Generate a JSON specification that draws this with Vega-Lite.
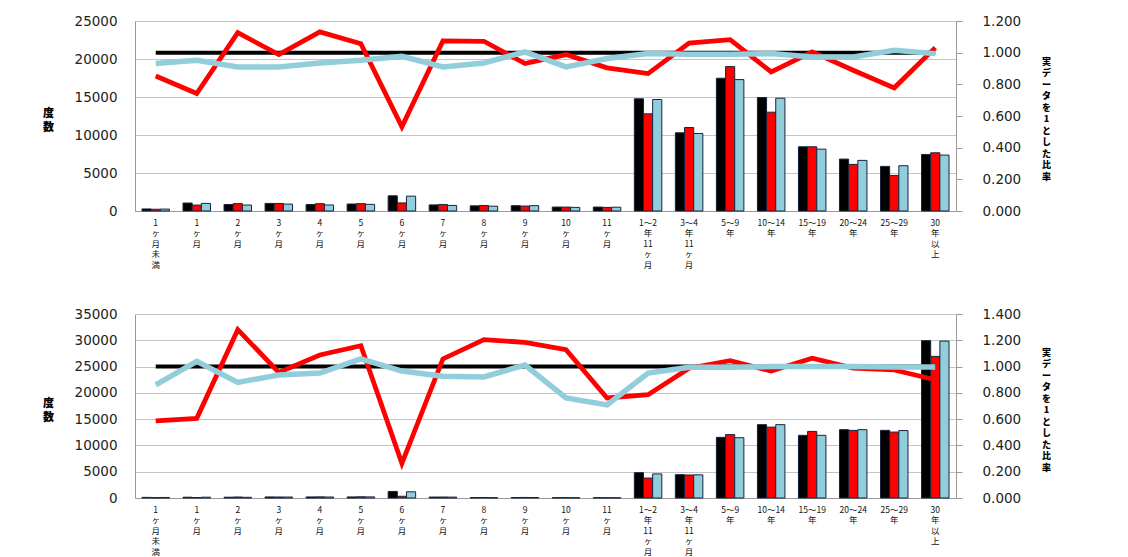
{
  "$schema": "https://vega.github.io/schema/vega-lite/v6.json",
  "padding": {"left": 42, "top": 14, "right": 0, "bottom": 0},
  "background": "white",
  "spacing": 38,
  "datasets": {
    "top": [
      {"period": "1ヶ月未満", "series": "実データ", "count": 270, "ratio": 1},
      {"period": "1ヶ月未満", "series": "推計1", "count": 230, "ratio": 0.853},
      {"period": "1ヶ月未満", "series": "推計2", "count": 251, "ratio": 0.931},
      {"period": "1ヶ月", "series": "実データ", "count": 1050, "ratio": 1},
      {"period": "1ヶ月", "series": "推計1", "count": 780, "ratio": 0.742},
      {"period": "1ヶ月", "series": "推計2", "count": 1000, "ratio": 0.952},
      {"period": "2ヶ月", "series": "実データ", "count": 860, "ratio": 1},
      {"period": "2ヶ月", "series": "推計1", "count": 970, "ratio": 1.126},
      {"period": "2ヶ月", "series": "推計2", "count": 785, "ratio": 0.91},
      {"period": "3ヶ月", "series": "実データ", "count": 1000, "ratio": 1},
      {"period": "3ヶ月", "series": "推計1", "count": 990, "ratio": 0.988},
      {"period": "3ヶ月", "series": "推計2", "count": 910, "ratio": 0.91},
      {"period": "4ヶ月", "series": "実データ", "count": 850, "ratio": 1},
      {"period": "4ヶ月", "series": "推計1", "count": 960, "ratio": 1.131},
      {"period": "4ヶ月", "series": "推計2", "count": 795, "ratio": 0.935},
      {"period": "5ヶ月", "series": "実データ", "count": 920, "ratio": 1},
      {"period": "5ヶ月", "series": "推計1", "count": 970, "ratio": 1.057},
      {"period": "5ヶ月", "series": "推計2", "count": 875, "ratio": 0.952},
      {"period": "6ヶ月", "series": "実データ", "count": 2000, "ratio": 1},
      {"period": "6ヶ月", "series": "推計1", "count": 1065, "ratio": 0.532},
      {"period": "6ヶ月", "series": "推計2", "count": 1955, "ratio": 0.977},
      {"period": "7ヶ月", "series": "実データ", "count": 800, "ratio": 1},
      {"period": "7ヶ月", "series": "推計1", "count": 860, "ratio": 1.074},
      {"period": "7ヶ月", "series": "推計2", "count": 730, "ratio": 0.91},
      {"period": "8ヶ月", "series": "実データ", "count": 680, "ratio": 1},
      {"period": "8ヶ月", "series": "推計1", "count": 730, "ratio": 1.072},
      {"period": "8ヶ月", "series": "推計2", "count": 635, "ratio": 0.935},
      {"period": "9ヶ月", "series": "実データ", "count": 700, "ratio": 1},
      {"period": "9ヶ月", "series": "推計1", "count": 650, "ratio": 0.931},
      {"period": "9ヶ月", "series": "推計2", "count": 705, "ratio": 1.005},
      {"period": "10ヶ月", "series": "実データ", "count": 520, "ratio": 1},
      {"period": "10ヶ月", "series": "推計1", "count": 515, "ratio": 0.988},
      {"period": "10ヶ月", "series": "推計2", "count": 475, "ratio": 0.91},
      {"period": "11ヶ月", "series": "実データ", "count": 520, "ratio": 1},
      {"period": "11ヶ月", "series": "推計1", "count": 470, "ratio": 0.904},
      {"period": "11ヶ月", "series": "推計2", "count": 500, "ratio": 0.963},
      {"period": "1～2年11ヶ月", "series": "実データ", "count": 14760, "ratio": 1},
      {"period": "1～2年11ヶ月", "series": "推計1", "count": 12780, "ratio": 0.868},
      {"period": "1～2年11ヶ月", "series": "推計2", "count": 14670, "ratio": 0.994},
      {"period": "3～4年11ヶ月", "series": "実データ", "count": 10290, "ratio": 1},
      {"period": "3～4年11ヶ月", "series": "推計1", "count": 10990, "ratio": 1.061},
      {"period": "3～4年11ヶ月", "series": "推計2", "count": 10200, "ratio": 0.99},
      {"period": "5～9年", "series": "実データ", "count": 17470, "ratio": 1},
      {"period": "5～9年", "series": "推計1", "count": 19000, "ratio": 1.082},
      {"period": "5～9年", "series": "推計2", "count": 17290, "ratio": 0.99},
      {"period": "10～14年", "series": "実データ", "count": 14930, "ratio": 1},
      {"period": "10～14年", "series": "推計1", "count": 13000, "ratio": 0.878},
      {"period": "10～14年", "series": "推計2", "count": 14840, "ratio": 0.994},
      {"period": "15～19年", "series": "実データ", "count": 8450, "ratio": 1},
      {"period": "15～19年", "series": "推計1", "count": 8450, "ratio": 1.005},
      {"period": "15～19年", "series": "推計2", "count": 8140, "ratio": 0.973},
      {"period": "20～24年", "series": "実データ", "count": 6830, "ratio": 1},
      {"period": "20～24年", "series": "推計1", "count": 6130, "ratio": 0.889},
      {"period": "20～24年", "series": "推計2", "count": 6660, "ratio": 0.973},
      {"period": "25～29年", "series": "実データ", "count": 5870, "ratio": 1},
      {"period": "25～29年", "series": "推計1", "count": 4680, "ratio": 0.778},
      {"period": "25～29年", "series": "推計2", "count": 5960, "ratio": 1.015},
      {"period": "30年以上", "series": "実データ", "count": 7440, "ratio": 1},
      {"period": "30年以上", "series": "推計1", "count": 7660, "ratio": 1.032},
      {"period": "30年以上", "series": "推計2", "count": 7360, "ratio": 0.994}
    ],
    "bottom": [
      {"period": "1ヶ月未満", "series": "実データ", "count": 120, "ratio": 1},
      {"period": "1ヶ月未満", "series": "推計1", "count": 70, "ratio": 0.586},
      {"period": "1ヶ月未満", "series": "推計2", "count": 103, "ratio": 0.86},
      {"period": "1ヶ月", "series": "実データ", "count": 150, "ratio": 1},
      {"period": "1ヶ月", "series": "推計1", "count": 91, "ratio": 0.606},
      {"period": "1ヶ月", "series": "推計2", "count": 156, "ratio": 1.04},
      {"period": "2ヶ月", "series": "実データ", "count": 150, "ratio": 1},
      {"period": "2ヶ月", "series": "推計1", "count": 192, "ratio": 1.281},
      {"period": "2ヶ月", "series": "推計2", "count": 132, "ratio": 0.88},
      {"period": "3ヶ月", "series": "実データ", "count": 200, "ratio": 1},
      {"period": "3ヶ月", "series": "推計1", "count": 191, "ratio": 0.956},
      {"period": "3ヶ月", "series": "推計2", "count": 187, "ratio": 0.936},
      {"period": "4ヶ月", "series": "実データ", "count": 200, "ratio": 1},
      {"period": "4ヶ月", "series": "推計1", "count": 218, "ratio": 1.088},
      {"period": "4ヶ月", "series": "推計2", "count": 190, "ratio": 0.951},
      {"period": "5ヶ月", "series": "実データ", "count": 200, "ratio": 1},
      {"period": "5ヶ月", "series": "推計1", "count": 232, "ratio": 1.159},
      {"period": "5ヶ月", "series": "推計2", "count": 212, "ratio": 1.058},
      {"period": "6ヶ月", "series": "実データ", "count": 1250, "ratio": 1},
      {"period": "6ヶ月", "series": "推計1", "count": 330, "ratio": 0.264},
      {"period": "6ヶ月", "series": "推計2", "count": 1180, "ratio": 0.966},
      {"period": "7ヶ月", "series": "実データ", "count": 180, "ratio": 1},
      {"period": "7ヶ月", "series": "推計1", "count": 190, "ratio": 1.058},
      {"period": "7ヶ月", "series": "推計2", "count": 167, "ratio": 0.926},
      {"period": "8ヶ月", "series": "実データ", "count": 80, "ratio": 1},
      {"period": "8ヶ月", "series": "推計1", "count": 96, "ratio": 1.205},
      {"period": "8ヶ月", "series": "推計2", "count": 74, "ratio": 0.921},
      {"period": "9ヶ月", "series": "実データ", "count": 90, "ratio": 1},
      {"period": "9ヶ月", "series": "推計1", "count": 107, "ratio": 1.184},
      {"period": "9ヶ月", "series": "推計2", "count": 91, "ratio": 1.012},
      {"period": "10ヶ月", "series": "実データ", "count": 70, "ratio": 1},
      {"period": "10ヶ月", "series": "推計1", "count": 79, "ratio": 1.129},
      {"period": "10ヶ月", "series": "推計2", "count": 53, "ratio": 0.761},
      {"period": "11ヶ月", "series": "実データ", "count": 60, "ratio": 1},
      {"period": "11ヶ月", "series": "推計1", "count": 46, "ratio": 0.761},
      {"period": "11ヶ月", "series": "推計2", "count": 42, "ratio": 0.708},
      {"period": "1～2年11ヶ月", "series": "実データ", "count": 4820, "ratio": 1},
      {"period": "1～2年11ヶ月", "series": "推計1", "count": 3790, "ratio": 0.786},
      {"period": "1～2年11ヶ月", "series": "推計2", "count": 4580, "ratio": 0.951},
      {"period": "3～4年11ヶ月", "series": "実データ", "count": 4440, "ratio": 1},
      {"period": "3～4年11ヶ月", "series": "推計1", "count": 4380, "ratio": 0.987},
      {"period": "3～4年11ヶ月", "series": "推計2", "count": 4410, "ratio": 0.994},
      {"period": "5～9年", "series": "実データ", "count": 11540, "ratio": 1},
      {"period": "5～9年", "series": "推計1", "count": 12060, "ratio": 1.045},
      {"period": "5～9年", "series": "推計2", "count": 11470, "ratio": 0.994},
      {"period": "10～14年", "series": "実データ", "count": 13950, "ratio": 1},
      {"period": "10～14年", "series": "推計1", "count": 13480, "ratio": 0.966},
      {"period": "10～14年", "series": "推計2", "count": 13950, "ratio": 1.0},
      {"period": "15～19年", "series": "実データ", "count": 11920, "ratio": 1},
      {"period": "15～19年", "series": "推計1", "count": 12670, "ratio": 1.063},
      {"period": "15～19年", "series": "推計2", "count": 11920, "ratio": 1.0},
      {"period": "20～24年", "series": "実データ", "count": 13000, "ratio": 1},
      {"period": "20～24年", "series": "推計1", "count": 12860, "ratio": 0.989},
      {"period": "20～24年", "series": "推計2", "count": 13000, "ratio": 1.0},
      {"period": "25～29年", "series": "実データ", "count": 12870, "ratio": 1},
      {"period": "25～29年", "series": "推計1", "count": 12540, "ratio": 0.974},
      {"period": "25～29年", "series": "推計2", "count": 12830, "ratio": 0.997},
      {"period": "30年以上", "series": "実データ", "count": 29930, "ratio": 1},
      {"period": "30年以上", "series": "推計1", "count": 26940, "ratio": 0.9},
      {"period": "30年以上", "series": "推計2", "count": 29850, "ratio": 0.997}
    ]
  },
  "vconcat": [
    {
      "width": 821,
      "height": 190,
      "data": {"name": "top"},
      "encoding": {
        "x": {
          "field": "period",
          "type": "nominal",
          "sort": null,
          "scale": {"paddingInner": 0.33, "paddingOuter": 0.17},
          "axis": {
            "title": null,
            "labelAngle": 0,
            "labelAlign": "center",
            "labelBaseline": "top",
            "labelFontSize": 8.5,
            "labelLineHeight": 10.5,
            "labelPadding": 7,
            "labelColor": "#111",
            "ticks": false,
            "domainColor": "#999",
            "labelExpr": "split(replace(replace(datum.value, regexp('([^0-9～])(?=.)', 'g'), '$1|'), regexp('([0-9～])(?=[^0-9～|])', 'g'), '$1|'), '|')"
          }
        }
      },
      "layer": [
        {
          "mark": {"type": "bar", "stroke": "#17253d", "strokeWidth": 1},
          "encoding": {
            "xOffset": {"field": "series", "type": "nominal", "sort": ["実データ", "推計1", "推計2"]},
            "y": {
              "field": "count",
              "type": "quantitative",
              "scale": {"domain": [0, 25000], "nice": false},
              "axis": {
                "values": [0, 5000, 10000, 15000, 20000, 25000],
                "format": "d",
                "title": ["度", "数"],
                "titleAngle": 0,
                "titleAlign": "center",
                "titleBaseline": "top",
                "titleX": -87,
                "titleY": 86,
                "titleFontSize": 11,
                "titleLineHeight": 14,
                "titleFontWeight": 900,
                "labelFont": "DejaVu Sans",
                "labelFontSize": 13.5,
                "labelColor": "#222",
                "labelPadding": 18,
                "ticks": false,
                "grid": true,
                "gridColor": "#c4c4c4",
                "domainColor": "#999"
              }
            },
            "color": {"field": "series", "type": "nominal", "legend": null,
              "scale": {"domain": ["実データ", "推計1", "推計2"], "range": ["#000000", "#ff0000", "#92cddc"]}}
          }
        },
        {
          "mark": {"type": "line"},
          "encoding": {
            "y": {
              "field": "ratio",
              "type": "quantitative",
              "scale": {"domain": [0, 1.2], "nice": false},
              "axis": {
                "orient": "right",
                "values": [0, 0.2, 0.4, 0.6, 0.8, 1.0, 1.2],
                "format": ".3f",
                "title": ["実", "デ", "ー", "タ", "を", "1", "と", "し", "た", "比", "率"],
                "titleAngle": 0,
                "titleAlign": "center",
                "titleBaseline": "top",
                "titleX": 90,
                "titleY": 36,
                "titleFontSize": 9,
                "titleLineHeight": 11.5,
                "titleFontWeight": 900,
                "labelFont": "DejaVu Sans",
                "labelFontSize": 13.5,
                "labelColor": "#222",
                "labelPadding": 20,
                "ticks": true,
                "tickSize": 6,
                "tickColor": "#999",
                "grid": false,
                "domainColor": "#999"
              }
            },
            "color": {"field": "series", "type": "nominal", "legend": null},
            "strokeWidth": {"field": "series", "type": "ordinal", "legend": null,
              "scale": {"domain": ["実データ", "推計1", "推計2"], "range": [4, 5.5, 4]}}
          }
        }
      ],
      "resolve": {"scale": {"y": "independent"}}
    },
    {
      "width": 821,
      "height": 184,
      "data": {"name": "bottom"},
      "encoding": {
        "x": {
          "field": "period",
          "type": "nominal",
          "sort": null,
          "scale": {"paddingInner": 0.33, "paddingOuter": 0.17},
          "axis": {
            "title": null,
            "labelAngle": 0,
            "labelAlign": "center",
            "labelBaseline": "top",
            "labelFontSize": 8.5,
            "labelLineHeight": 10.5,
            "labelPadding": 7,
            "labelColor": "#111",
            "ticks": false,
            "domainColor": "#999",
            "labelExpr": "split(replace(replace(datum.value, regexp('([^0-9～])(?=.)', 'g'), '$1|'), regexp('([0-9～])(?=[^0-9～|])', 'g'), '$1|'), '|')"
          }
        }
      },
      "layer": [
        {
          "mark": {"type": "bar", "stroke": "#17253d", "strokeWidth": 1},
          "encoding": {
            "xOffset": {"field": "series", "type": "nominal", "sort": ["実データ", "推計1", "推計2"]},
            "y": {
              "field": "count",
              "type": "quantitative",
              "scale": {"domain": [0, 35000], "nice": false},
              "axis": {
                "values": [0, 5000, 10000, 15000, 20000, 25000, 30000, 35000],
                "format": "d",
                "title": ["度", "数"],
                "titleAngle": 0,
                "titleAlign": "center",
                "titleBaseline": "top",
                "titleX": -87,
                "titleY": 83,
                "titleFontSize": 11,
                "titleLineHeight": 14,
                "titleFontWeight": 900,
                "labelFont": "DejaVu Sans",
                "labelFontSize": 13.5,
                "labelColor": "#222",
                "labelPadding": 18,
                "ticks": false,
                "grid": true,
                "gridColor": "#c4c4c4",
                "domainColor": "#999"
              }
            },
            "color": {"field": "series", "type": "nominal", "legend": null,
              "scale": {"domain": ["実データ", "推計1", "推計2"], "range": ["#000000", "#ff0000", "#92cddc"]}}
          }
        },
        {
          "mark": {"type": "line"},
          "encoding": {
            "y": {
              "field": "ratio",
              "type": "quantitative",
              "scale": {"domain": [0, 1.4], "nice": false},
              "axis": {
                "orient": "right",
                "values": [0, 0.2, 0.4, 0.6, 0.8, 1.0, 1.2, 1.4],
                "format": ".3f",
                "title": ["実", "デ", "ー", "タ", "を", "1", "と", "し", "た", "比", "率"],
                "titleAngle": 0,
                "titleAlign": "center",
                "titleBaseline": "top",
                "titleX": 90,
                "titleY": 34,
                "titleFontSize": 9,
                "titleLineHeight": 11.5,
                "titleFontWeight": 900,
                "labelFont": "DejaVu Sans",
                "labelFontSize": 13.5,
                "labelColor": "#222",
                "labelPadding": 20,
                "ticks": true,
                "tickSize": 6,
                "tickColor": "#999",
                "grid": false,
                "domainColor": "#999"
              }
            },
            "color": {"field": "series", "type": "nominal", "legend": null},
            "strokeWidth": {"field": "series", "type": "ordinal", "legend": null,
              "scale": {"domain": ["実データ", "推計1", "推計2"], "range": [4, 5.5, 4]}}
          }
        }
      ],
      "resolve": {"scale": {"y": "independent"}}
    }
  ],
  "config": {
    "font": "Noto Sans CJK JP",
    "view": {"stroke": null}
  }
}
